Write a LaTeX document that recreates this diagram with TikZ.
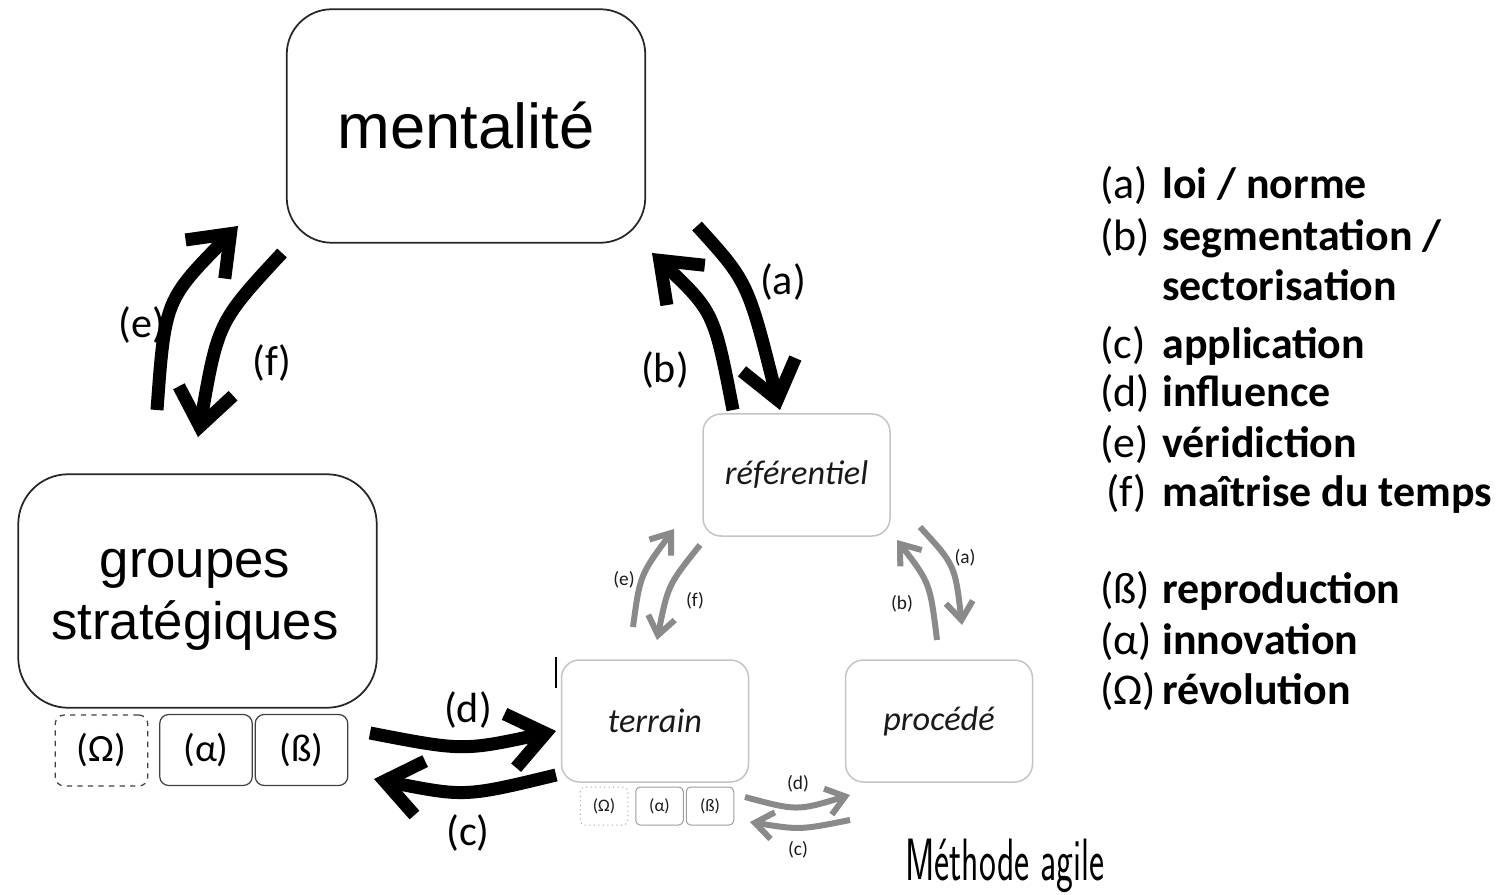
\documentclass[tikz,border=0pt]{standalone}
\usepackage{fontspec}
\usepackage{graphicx}
\setmainfont{Carlito}
\newfontfamily\arialfont{Liberation Sans}
\usetikzlibrary{arrows.meta}

\definecolor{boxgray}{HTML}{C4C4C4}
\definecolor{arrowgray}{HTML}{8A8A8A}
\definecolor{textdark}{HTML}{1A1A1A}

\begin{document}
\begin{tikzpicture}[x=0.2mm, y=-0.2mm,
	box/.style={draw=black!85, line width=0.35mm, rounded corners=9mm,
		minimum width=71.7mm, minimum height=46.7mm, align=center, inner sep=0pt},
	tag/.style={draw=black!75, line width=0.25mm, rounded corners=1.8mm,
		minimum width=18.5mm, minimum height=14.2mm, font=\fontsize{22}{26}\selectfont},
	gbox/.style={draw=boxgray, line width=0.3mm, rounded corners=3.6mm,
		minimum width=37.4mm, minimum height=24.4mm, text=textdark,
		font=\fontsize{19.5}{23}\selectfont\itshape},
	gtag/.style={draw=boxgray!80!black, line width=0.2mm, rounded corners=0.9mm,
		minimum width=9.5mm, minimum height=7.6mm, text=textdark,
		font=\fontsize{10}{12}\selectfont},
	bigarrow/.style={line width=2.6mm, -{Straight Barb[length=7.2mm, width=11mm]}},
	greyarrow/.style={arrowgray, line width=1.2mm, -{Straight Barb[length=3.6mm, width=5.4mm]}},
	biglabel/.style={font=\fontsize{24}{28}\selectfont},
	smalllabel/.style={font=\fontsize{11}{13}\selectfont, text=textdark},
	legend/.style={anchor=base west, inner sep=0pt, font=\fontsize{25}{28}\selectfont}]
	
	\useasboundingbox (0,0) rectangle (1506,895);
	
	% large scheme
	\node[box, font=\arialfont\fontsize{36}{40}\selectfont] (mental) at (466,126) {mentalité};
	\node[box, rounded corners=10mm] (groupes) at (197.5,591) {};
	\node[align=center, font=\arialfont\fontsize{30}{35.3}\selectfont]
		(groupes-text) at (195,600) {groupes\\stratégiques};
	\node[tag, dashed] (omega) at (101.5,750.5) {(Ω)};
	\node[tag] (alpha) at (206,750) {(α)};
	\node[tag] (beta) at (301.5,750) {(ß)};
	
	% agile scheme
	\node[gbox] (referentiel) at (796.5,475) {référentiel};
	\node[gbox] (terrain) at (655,721) {terrain};
	\node[gbox] (procede) at (939,721) {procédé};
	\node[gtag, dotted] (gomega) at (604,806) {(Ω)};
	\node[gtag] (galpha) at (659.5,806) {(α)};
	\node[gtag] (gbeta) at (710,806) {(ß)};
	\draw[line width=0.3mm] (556,657) -- (556,688);
	
	% arrow ends
	\coordinate (e-s) at (157,410);  \coordinate (e-t) at (238,226);
	\coordinate (f-s) at (282,253);  \coordinate (f-t) at (198,437);
	\coordinate (a-s) at (697,226);  \coordinate (a-t) at (780,410);
	\coordinate (b-s) at (733,410);  \coordinate (b-t) at (652,253);
	\coordinate (d-s) at (370,733);  \coordinate (d-t) at (556,731);
	\coordinate (c-s) at (556,775);  \coordinate (c-t) at (374,779);
	
	\draw[bigarrow] (e-s) .. controls (165,300) .. (e-t);
	\draw[bigarrow] (f-s) .. controls (218,322) .. (f-t);
	\draw[bigarrow] (a-s) .. controls (748,282) .. (a-t);
	\draw[bigarrow] (b-s) .. controls (714,312) .. (b-t);
	\draw[bigarrow] (d-s) .. controls (463,751) .. (d-t);
	\draw[bigarrow] (c-s) .. controls (465,797) .. (c-t);
	
	\node[biglabel] (lab-e) at (142,325) {(e)};
	\node[biglabel] (lab-f) at (272,363) {(f)};
	\node[biglabel] (lab-a) at (783,282) {(a)};
	\node[biglabel] (lab-b) at (665,370) {(b)};
	\node[biglabel] (lab-d) at (468,710) {(d)};
	\node[biglabel] (lab-c) at (468,833) {(c)};
	
	\coordinate (ge-s) at (633,627);  \coordinate (ge-t) at (674,529);
	\coordinate (gf-s) at (700,545);  \coordinate (gf-t) at (657,640);
	\coordinate (ga-s) at (920,527);  \coordinate (ga-t) at (962,625);
	\coordinate (gb-s) at (937,640);  \coordinate (gb-t) at (897,540);
	\coordinate (gd-s) at (745,797);  \coordinate (gd-t) at (850,795);
	\coordinate (gc-s) at (850,820);  \coordinate (gc-t) at (750,822);
	
	\draw[greyarrow] (ge-s) .. controls (640,575) .. (ge-t);
	\draw[greyarrow] (gf-s) .. controls (668,585) .. (gf-t);
	\draw[greyarrow] (ga-s) .. controls (955,565) .. (ga-t);
	\draw[greyarrow] (gb-s) .. controls (930,583) .. (gb-t);
	\draw[greyarrow] (gd-s) .. controls (797,811) .. (gd-t);
	\draw[greyarrow] (gc-s) .. controls (800,830) .. (gc-t);
	
	\node[smalllabel] (glab-e) at (624,580) {(e)};
	\node[smalllabel] (glab-f) at (695,601) {(f)};
	\node[smalllabel] (glab-a) at (965,558) {(a)};
	\node[smalllabel] (glab-b) at (902,604) {(b)};
	\node[smalllabel] (glab-d) at (798,784) {(d)};
	\node[smalllabel] (glab-c) at (798,850) {(c)};
	
	\node[anchor=base west, inner sep=0pt] (agile) at (905,880)
		{\scalebox{0.6}[1]{\sffamily\fontsize{34}{36}\selectfont Méthode agile}};
	
	% legend
	\foreach \lx/\yy/\lab/\txt [count=\i] in {
		1100/199/(a)/{loi / norme}, 1100/251/(b)/{segmentation /},
		1100/301/{}/{sectorisation}, 1100/358/(c)/{application},
		1100/407/(d)/{influence}, 1100/457/(e)/{véridiction},
		1106/506/(f)/{maîtrise du temps}, 1100/603/(ß)/{reproduction},
		1100/654/(α)/{innovation}, 1100/704/(Ω)/{révolution}} {
		\node[legend] (lab\i) at (\lx,\yy) {\lab};
		\node[legend] (txt\i) at (1162,\yy) {\bfseries\txt};
	}
	
\end{tikzpicture}
\end{document}
